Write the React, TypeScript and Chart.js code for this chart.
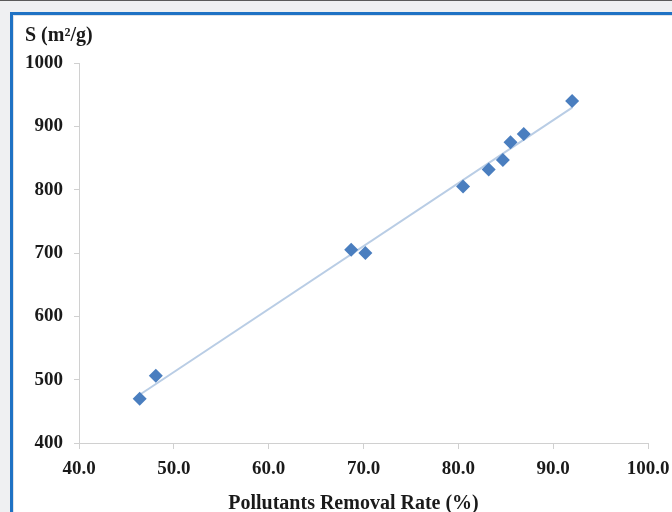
import React, { useEffect, useRef } from "react";
import { Chart, registerables } from "chart.js";

Chart.register(...registerables);

const removalRate = [46.4, 48.1, 68.7, 70.2, 80.5, 83.2, 84.7, 85.5, 86.9, 92.0];
const surfaceArea = [470, 506, 705, 700, 805, 832, 847, 875, 888, 940];
const xAxisRange = [40, 100];
const yAxisRange = [400, 1000];
const xTitle = "Pollutants Removal Rate (%)";
const yTitle = "S (m²/g)";

function linearFit(xs: number[], ys: number[]) {
  const n = xs.length;
  const mx = xs.reduce((a, b) => a + b, 0) / n;
  const my = ys.reduce((a, b) => a + b, 0) / n;
  let sxy = 0;
  let sxx = 0;
  for (let i = 0; i < n; i++) {
    sxy += (xs[i] - mx) * (ys[i] - my);
    sxx += (xs[i] - mx) * (xs[i] - mx);
  }
  const slope = sxy / sxx;
  return { slope, intercept: my - slope * mx };
}

export default function App() {
  const ref = useRef<HTMLCanvasElement | null>(null);

  useEffect(() => {
    if (!ref.current) return;
    const fit = linearFit(removalRate, surfaceArea);
    const xMin = Math.min(...removalRate);
    const xMax = Math.max(...removalRate);
    const trend = [xMin, xMax].map((x) => ({ x, y: fit.slope * x + fit.intercept }));
    const points = removalRate.map((x, i) => ({ x, y: surfaceArea[i] }));
    const fam = "'Liberation Serif', 'Times New Roman', serif";
    const axisColor = "#d0d0d0";
    const textColor = "#1a1a1a";

    const chart = new Chart(ref.current, {
      type: "scatter",
      data: {
        datasets: [
          {
            type: "line",
            data: trend,
            borderColor: "#b9cde5",
            borderWidth: 2,
            pointRadius: 0,
            fill: false,
            order: 2,
          } as any,
          {
            data: points,
            pointStyle: "rectRot",
            pointRadius: 7,
            backgroundColor: "#4a7ebf",
            borderColor: "#4a7ebf",
            borderWidth: 0,
            order: 1,
          },
        ],
      },
      options: {
        animation: false,
        responsive: false,
        maintainAspectRatio: false,
        layout: { padding: { left: 25, right: 24, top: 0, bottom: 0 } },
        plugins: {
          legend: { display: false },
          tooltip: { enabled: false },
          title: {
            display: true,
            text: yTitle,
            align: "start",
            color: textColor,
            font: { family: fam, size: 20, weight: "bold", lineHeight: 1.2 },
            padding: { top: 23.5, bottom: 15.5 },
          },
        },
        scales: {
          x: {
            type: "linear",
            min: xAxisRange[0],
            max: xAxisRange[1],
            afterFit: (s: any) => {
              s.height = 69;
              s.paddingLeft = 0;
              s.paddingRight = 0;
            },
            ticks: {
              stepSize: 10,
              padding: 9,
              color: textColor,
              font: { family: fam, size: 19, weight: "bold" },
              callback: (v: any) => Number(v).toFixed(1),
              maxRotation: 0,
            },
            grid: {
              drawOnChartArea: false,
              drawTicks: true,
              tickLength: 6,
              color: axisColor,
            },
            border: { color: axisColor, width: 1 },
            title: {
              display: true,
              text: xTitle + "\u00a0\u00a0\u00a0\u00a0",
              color: textColor,
              font: { family: fam, size: 20, weight: "bold", lineHeight: 0.8 },
              padding: { top: 0, bottom: 0 },
            },
          },
          y: {
            type: "linear",
            min: yAxisRange[0],
            max: yAxisRange[1],
            afterFit: (s: any) => {
              s.width = 54;
            },
            ticks: {
              stepSize: 100,
              padding: 11,
              color: textColor,
              font: { family: fam, size: 19, weight: "bold" },
              callback: (v: any) => String(v),
            },
            grid: {
              drawOnChartArea: false,
              drawTicks: true,
              tickLength: 5,
              color: axisColor,
            },
            border: { color: axisColor, width: 1 },
          },
        },
      },
    });
    return () => chart.destroy();
  }, []);

  return (
    <div
      style={{
        position: "fixed",
        left: 0,
        top: 0,
        width: 672,
        height: 512,
        overflow: "hidden",
        background: "#eff0f2",
        borderTop: "1px solid #5a5a5a",
        boxSizing: "border-box",
      }}
    >
      <div
        style={{
          position: "absolute",
          left: 10,
          top: 11,
          width: 700,
          height: 540,
          border: "3px solid #1f72c4",
          background: "#ffffff",
          boxShadow: "inset 1px 1px 0 #dfe3e8",
        }}
      />
      <canvas
        ref={ref}
        width={672}
        height={512}
        style={{ position: "absolute", left: 0, top: -1, width: 672, height: 512 }}
      />
    </div>
  );
}
